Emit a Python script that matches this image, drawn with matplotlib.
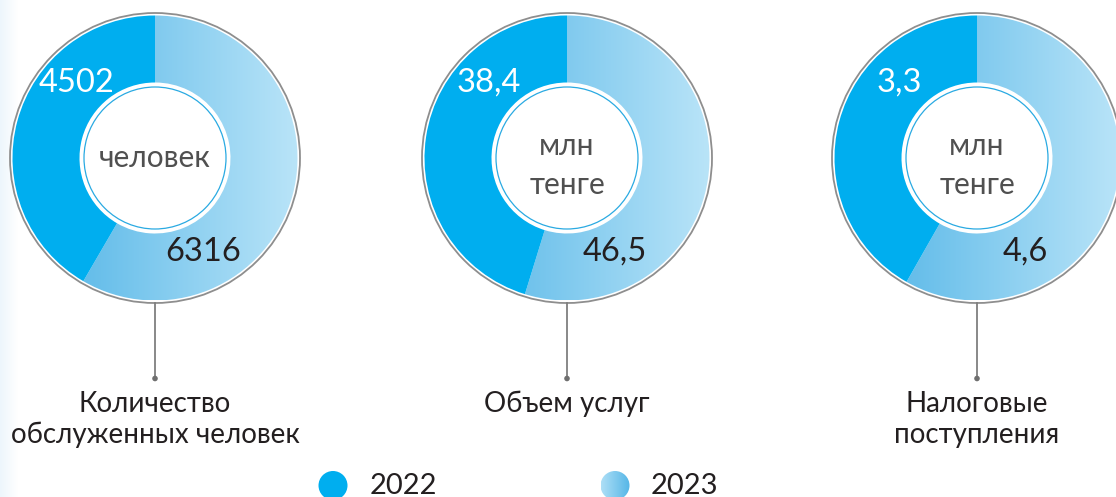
import numpy as np
import matplotlib
matplotlib.use("Agg")
import matplotlib.pyplot as plt
from matplotlib.patches import Circle
from matplotlib.colors import LinearSegmentedColormap

plt.rcParams['font.family'] = ['Lato', 'DejaVu Sans']

# ---- data ----
years = ["2022", "2023"]
titles = [["Количество", "обслуженных человек"], ["Объем услуг"], ["Налоговые", "поступления"]]
units = [["человек"], ["млн", "тенге"], ["млн", "тенге"]]
values_2022 = [4502, 38.4, 3.3]
values_2023 = [6316, 46.5, 4.6]
labels_2022 = ["4502", "38,4", "3,3"]
labels_2023 = ["6316", "46,5", "4,6"]

# ---- style / layout ----
W, H = 1116, 497
C2022 = "#00AEEF"
grad_cmap = LinearSegmentedColormap.from_list("g23", ["#48B0E5", "#B9E4F8"])
legend_cmap = LinearSegmentedColormap.from_list("l23", ["#AEDFF6", "#55B6E7"])
TXT = "#231F20"
UNIT_C = "#505050"
centers_x = [155, 567, 977]
cy_pix = 158
R_OUT = 142.5
RING_W = 67
R_GRAY = 145

fig = plt.figure(figsize=(W / 100, H / 100), dpi=100)
ax = fig.add_axes([0, 0, 1, 1])
fig.patch.set_facecolor("white")

def Y(yp):
    return H - yp

# faint left band
band = np.linspace(1, 0, 64).reshape(1, -1)
ax.imshow(band, extent=[0, 18, 0, H], cmap=LinearSegmentedColormap.from_list("b", ["#FFFFFF", "#EDF6FC"]),
          aspect="auto", zorder=0)

grad = np.linspace(0, 1, 256).reshape(1, -1)

for i, cx in enumerate(centers_x):
    cy = Y(cy_pix)
    wedges, _ = ax.pie([values_2022[i], values_2023[i]], radius=R_OUT, center=(cx, cy),
                       startangle=90, counterclock=True,
                       colors=[C2022, "none"],
                       wedgeprops=dict(width=RING_W, edgecolor="none", linewidth=0))
    im = ax.imshow(grad, extent=[cx - R_OUT, cx + R_OUT, cy - R_OUT, cy + R_OUT],
                   cmap=grad_cmap, aspect="auto", zorder=1)
    im.set_clip_path(wedges[1])
    wedges[0].set_zorder(2)
    # gray outline
    ax.add_patch(Circle((cx, cy), R_GRAY, fill=False, ec="#8E8E8E", lw=1.3, zorder=3))
    # inner blue thin circle
    ax.add_patch(Circle((cx, cy), 71, fc="white", ec="#2AAAE2", lw=0.9, zorder=3))
    # value labels
    ax.text(cx - 78, Y(82.5), labels_2022[i], color="white", fontsize=23.5,
            ha="center", va="center", zorder=4)
    ax.text(cx + 48, Y(252), labels_2023[i], color=TXT, fontsize=23.5,
            ha="center", va="center", zorder=4)
    # center unit text
    u = units[i]
    ys = [158] if len(u) == 1 else [146, 185]
    for line, yy in zip(u, ys):
        ax.text(cx, Y(yy), line, color=UNIT_C, fontsize=21.5, fontweight="normal",
                ha="center", va="center", zorder=4)
    # stem + dot
    ax.plot([cx, cx], [Y(cy_pix + R_GRAY), Y(378)], color="#7F7F7F", lw=1.3, zorder=3)
    ax.add_patch(Circle((cx, Y(378.5)), 2.8, fc="#6F6F6F", ec="none", zorder=4))
    # title
    for j, line in enumerate(titles[i]):
        ax.text(cx, Y(412 + 31 * j), line, color=TXT, fontsize=20,
                ha="center", va="baseline", zorder=4)

# legend
leg_cx = [333, 615]
leg_cy = Y(485.5)
ax.add_patch(Circle((leg_cx[0], leg_cy), 14.5, fc=C2022, ec="none", zorder=3))
c2 = Circle((leg_cx[1], leg_cy), 14.5, fc="none", ec="none", zorder=3)
ax.add_patch(c2)
lim = ax.imshow(grad, extent=[leg_cx[1] - 14.5, leg_cx[1] + 14.5, leg_cy - 14.5, leg_cy + 14.5],
                cmap=legend_cmap, aspect="auto", zorder=3)
lim.set_clip_path(c2)
ax.text(370, Y(486), years[0], color=TXT, fontsize=21, ha="left", va="center")
ax.text(651, Y(486), years[1], color=TXT, fontsize=21, ha="left", va="center")

ax.set_xlim(0, W)
ax.set_ylim(0, H)
ax.set_aspect("auto")
ax.axis("off")

fig.savefig("out.png", dpi=100)
